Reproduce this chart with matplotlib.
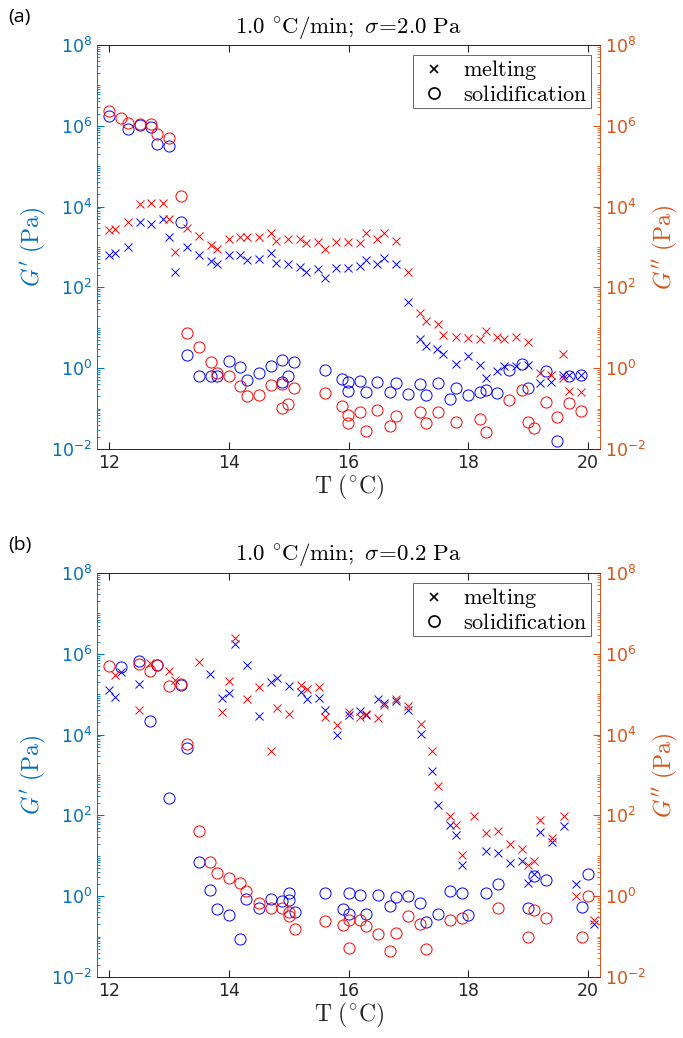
import numpy as np
import matplotlib
matplotlib.use('Agg')
import matplotlib.pyplot as plt
from matplotlib.ticker import LogLocator, FixedLocator, NullFormatter

plt.rcParams['mathtext.fontset'] = 'cm'
plt.rcParams['font.family'] = ['DejaVu Sans']

# ---- panel (a): 1.0 C/min, sigma = 2.0 Pa  (values are log10 of modulus in Pa)
a_gp_melt_T = [12.0, 12.1, 12.31, 12.51, 12.71, 12.9, 13.0, 13.1, 13.3, 13.5, 13.7, 13.8, 14.0, 14.19,
               14.3, 14.5, 14.7, 14.79, 14.99, 15.19, 15.29, 15.49, 15.6, 15.79, 15.99, 16.19, 16.29,
               16.48, 16.59, 16.79, 16.99, 17.19, 17.29, 17.47, 17.58, 17.79, 17.99, 18.19, 18.29,
               18.48, 18.59, 18.79, 18.99, 19.19, 19.39, 19.59, 19.69, 19.89]
a_gp_melt = [2.79, 2.84, 3.0, 3.62, 3.56, 3.7, 3.25, 2.39, 3.0, 2.8, 2.65, 2.59, 2.81, 2.8,
             2.69, 2.71, 2.84, 2.61, 2.59, 2.51, 2.39, 2.46, 2.24, 2.49, 2.47, 2.54, 2.69,
             2.59, 2.73, 2.57, 1.64, 0.73, 0.55, 0.47, 0.35, 0.1, 0.29, 0.07, -0.25,
             -0.08, 0.06, 0.06, 0.07, -0.37, -0.33, -0.17, -0.17, -0.17]
a_gpp_melt_T = [12.0, 12.1, 12.31, 12.51, 12.71, 12.9, 13.0, 13.1, 13.3, 13.5, 13.7, 13.8, 14.0, 14.19,
                14.3, 14.5, 14.7, 14.79, 14.99, 15.19, 15.29, 15.49, 15.6, 15.79, 15.99, 16.19, 16.29,
                16.48, 16.59, 16.79, 16.99, 17.19, 17.29, 17.49, 17.58, 17.79, 17.99, 18.19, 18.29,
                18.48, 18.59, 18.79, 18.99, 19.19, 19.39, 19.59, 19.59, 19.69, 19.89]
a_gpp_melt = [3.42, 3.44, 3.62, 4.07, 4.09, 4.09, 3.7, 2.87, 3.47, 3.27, 3.06, 2.94, 3.2, 3.25,
              3.25, 3.24, 3.35, 3.14, 3.21, 3.2, 3.09, 3.13, 2.96, 3.12, 3.13, 3.09, 3.35,
              3.2, 3.35, 3.14, 2.39, 1.36, 1.17, 1.09, 0.81, 0.78, 0.74, 0.72, 0.91,
              0.78, 0.72, 0.78, 0.66, -0.11, -0.17, 0.36, -0.25, -0.56, -0.6]
a_gp_sol_T = [12.0, 12.31, 12.51, 12.71, 12.8, 13.0, 13.2, 13.3, 13.5, 13.7, 13.8, 14.0, 14.19, 14.3,
              14.5, 14.7, 14.89, 14.89, 14.99, 15.09, 15.6, 15.89, 15.99, 15.99, 16.19, 16.29, 16.48,
              16.69, 16.79, 16.99, 17.19, 17.29, 17.49, 17.69, 17.79, 17.99, 18.19, 18.29, 18.48,
              18.68, 18.89, 18.99, 19.29, 19.49, 19.69, 19.89]
a_gp_sol = [6.25, 5.93, 6.03, 5.96, 5.55, 5.51, 3.62, 0.32, -0.19, -0.2, -0.2, 0.18, 0.04, -0.3,
            -0.12, 0.06, 0.2, -0.34, -0.2, 0.15, -0.04, -0.27, -0.34, -0.56, -0.31, -0.58, -0.35,
            -0.58, -0.37, -0.64, -0.38, -0.67, -0.37, -0.75, -0.48, -0.66, -0.6, -0.55, -0.62,
            -0.04, 0.1, -0.48, -0.07, -1.81, -0.19, -0.17]
a_gpp_sol_T = [12.0, 12.2, 12.31, 12.51, 12.71, 12.8, 13.0, 13.2, 13.3, 13.5, 13.7, 13.8, 14.0, 14.19,
               14.3, 14.5, 14.7, 14.89, 15.09, 14.89, 14.99, 15.6, 15.89, 15.99, 15.99, 16.19, 16.29,
               16.48, 16.69, 16.79, 17.19, 17.29, 17.49, 17.79, 18.19, 18.29, 18.68, 18.89, 18.99,
               19.09, 19.29, 19.49, 19.69, 19.89]
a_gpp_sol = [6.37, 6.2, 6.08, 6.04, 6.05, 5.8, 5.71, 4.27, 0.86, 0.53, 0.16, -0.11, -0.2, -0.45,
             -0.7, -0.66, -0.42, -0.38, -0.48, -0.99, -0.89, -0.62, -0.93, -1.16, -1.36, -1.08, -1.56,
             -1.03, -1.44, -1.19, -1.09, -1.36, -1.08, -1.32, -1.26, -1.59, -0.78, -0.54, -1.32,
             -1.49, -0.83, -1.22, -0.86, -1.07]

# ---- panel (b): 1.0 C/min, sigma = 0.2 Pa
b_gp_melt_T = [12.0, 12.1, 12.2, 12.5, 13.69, 13.89, 14.0, 14.1, 14.3, 14.5, 14.7, 14.8, 15.0, 15.2,
               15.3, 15.5, 15.6, 15.8, 16.0, 16.19, 16.29, 16.5, 16.6, 16.8, 17.0, 17.21, 17.4, 17.5,
               17.7, 17.8, 17.9, 18.3, 18.5, 18.7, 18.9, 19.0, 19.1, 19.2, 19.4, 19.6, 19.8, 20.1]
b_gp_melt = [5.1, 4.93, 5.55, 5.26, 5.5, 4.91, 5.03, 6.25, 5.72, 4.46, 5.3, 5.39, 5.2, 5.06,
             4.89, 4.91, 4.62, 3.99, 4.48, 4.59, 4.48, 4.89, 4.77, 4.83, 4.6, 4.01, 3.1, 2.25,
             1.76, 1.51, 0.77, 1.12, 1.06, 0.81, 0.87, 0.33, 0.56, 1.59, 1.33, 1.73, 0.29, -0.69]
b_gpp_melt_T = [12.1, 12.5, 12.69, 13.0, 13.1, 13.5, 13.89, 14.0, 14.1, 14.3, 14.5, 14.7, 14.8, 15.0,
                15.2, 15.3, 15.5, 15.6, 15.8, 16.0, 16.19, 16.29, 16.5, 16.6, 16.8, 17.0, 17.21, 17.4,
                17.5, 17.7, 17.8, 17.9, 18.1, 18.3, 18.5, 18.7, 18.9, 19.0, 19.1, 19.2, 19.4, 19.6,
                19.8, 20.1]
b_gpp_melt = [5.47, 4.6, 5.78, 5.57, 5.36, 5.8, 4.56, 5.32, 6.38, 4.89, 5.18, 3.59, 4.66, 4.5,
              5.22, 5.12, 5.17, 4.44, 4.25, 4.56, 4.44, 4.52, 4.4, 4.73, 4.87, 4.7, 4.27, 3.59,
              2.74, 1.98, 1.76, 1.01, 1.98, 1.57, 1.62, 1.29, 1.16, 0.77, 0.87, 1.88, 1.45, 1.98,
              0.0, -0.58]
b_gp_sol_T = [12.2, 12.5, 12.69, 12.8, 13.0, 13.2, 13.3, 13.5, 13.69, 13.8, 14.0, 14.19, 14.29, 14.5,
              14.7, 14.89, 15.0, 15.0, 15.1, 15.6, 15.9, 16.0, 16.0, 16.19, 16.29, 16.5, 16.69, 16.79,
              17.0, 17.19, 17.29, 17.49, 17.7, 17.9, 18.0, 18.3, 18.5, 18.99, 19.1, 19.3, 19.9, 20.0]
b_gp_sol = [5.68, 5.82, 4.33, 5.72, 2.42, 5.22, 3.67, 0.85, 0.15, -0.32, -0.47, -1.05, -0.08, -0.3,
            -0.08, -0.12, 0.07, -0.1, -0.39, 0.07, -0.32, 0.08, -0.45, 0.02, -0.45, 0.02, -0.24, -0.03,
            0.0, -0.18, -0.64, -0.43, 0.13, 0.07, -0.47, 0.07, 0.29, -0.28, 0.5, 0.4, -0.26, 0.54]
b_gpp_sol_T = [12.0, 12.5, 12.69, 12.8, 13.0, 13.2, 13.3, 13.5, 13.69, 13.8, 14.0, 14.19, 14.29, 14.5,
               14.7, 14.89, 15.0, 15.0, 15.1, 15.6, 15.9, 16.0, 16.0, 16.19, 16.29, 16.5, 16.69, 16.79,
               17.0, 17.19, 17.29, 17.7, 17.9, 18.5, 18.99, 19.1, 19.3, 19.9, 20.0]
b_gpp_sol = [5.69, 5.74, 5.57, 5.72, 5.2, 5.26, 3.76, 1.61, 0.85, 0.58, 0.45, 0.33, 0.12, -0.18,
             -0.29, -0.29, -0.39, -0.5, -0.82, -0.61, -0.72, -0.59, -1.27, -0.58, -0.73, -0.94, -1.35, -0.92,
             -0.49, -0.7, -1.31, -0.59, -0.53, -0.29, -1.0, -0.35, -0.55, -1.02, 0.0]

titles = [r'$\mathrm{1.0\ ^{\circ}C/min;}\ \sigma\!=\!\mathrm{2.0\ Pa}$',
          r'$\mathrm{1.0\ ^{\circ}C/min;}\ \sigma\!=\!\mathrm{0.2\ Pa}$']
panel_tags = ['(a)', '(b)']
x_ticks = [12, 14, 16, 18, 20]
y_ticks = [1e-2, 1e0, 1e2, 1e4, 1e6, 1e8]

LEFT_C = '#0072BD'
RIGHT_C = '#D95319'
AX_C = '#262626'

fig = plt.figure(figsize=(6.83, 10.38), dpi=100)


def draw_panel(rect, tag, title, gpm_T, gpm, gppm_T, gppm, gps_T, gps, gpps_T, gpps):
	ax = fig.add_axes(rect)
	ax2 = ax.twinx()

	ax.plot(gpm_T, 10.0 ** np.array(gpm), 'x', color='b', ms=5.5, mew=0.7, ls='none')
	ax.plot(gps_T, 10.0 ** np.array(gps), 'o', mfc='none', mec='b', ms=8, mew=0.7, ls='none')
	ax2.plot(gppm_T, 10.0 ** np.array(gppm), 'x', color='r', ms=5.5, mew=0.7, ls='none')
	ax2.plot(gpps_T, 10.0 ** np.array(gpps), 'o', mfc='none', mec='r', ms=8, mew=0.7, ls='none')

	for a, c in ((ax, LEFT_C), (ax2, RIGHT_C)):
		a.set_yscale('log')
		a.set_ylim(1e-2, 1e8)
		a.yaxis.set_major_locator(FixedLocator(y_ticks))
		a.yaxis.set_minor_locator(LogLocator(base=10, subs=np.arange(1, 10), numticks=30))
		a.yaxis.set_minor_formatter(NullFormatter())
		a.tick_params(axis='y', which='both', direction='in', colors=c, labelsize=12.5)
		a.tick_params(axis='y', which='major', length=5)
		a.tick_params(axis='y', which='minor', length=2.5)
		for s in a.spines.values():
			s.set_color(AX_C)
			s.set_linewidth(0.6)
	ax.spines['left'].set_color(LEFT_C)
	ax2.spines['left'].set_color(LEFT_C)
	ax2.spines['right'].set_color(RIGHT_C)
	ax.spines['right'].set_color(RIGHT_C)

	ax.set_xlim(11.8, 20.2)
	ax.set_xticks(x_ticks)
	ax.tick_params(axis='x', direction='in', top=True, colors=AX_C, labelsize=12.5, length=5)
	ax.tick_params(axis='x', which='minor', top=False, bottom=False)

	ax.set_xlabel(r'$\mathrm{T\ (^{\circ}C)}$', fontsize=17, color=AX_C, labelpad=1)
	ax.set_ylabel(r"$G'\ \mathrm{(Pa)}$", fontsize=17, color=LEFT_C, labelpad=2)
	ax2.set_ylabel(r"$G''\ \mathrm{(Pa)}$", fontsize=17, color=RIGHT_C, rotation=90, labelpad=4)
	ax.set_title(title, fontsize=16.5, color='black', pad=9)

	# black proxy markers for the legend
	h1, = ax.plot([], [], 'x', color='black', ms=6, mew=1.2, ls='none')
	h2, = ax.plot([], [], 'o', mfc='none', mec='black', ms=8, mew=1.2, ls='none')
	leg = ax2.legend([h1, h2], [r'$\mathrm{melting}$', r'$\mathrm{solidification}$'],
					 loc='upper right', bbox_to_anchor=(0.982, 0.975), borderaxespad=0,
					 fontsize=16, fancybox=False, framealpha=1, edgecolor='#666666',
					 handletextpad=0.5, borderpad=0.15, labelspacing=0.1, handlelength=1.6)
	leg.get_frame().set_linewidth(0.7)

	fig.text(0.012, rect[1] + rect[3] + 0.027, tag, fontsize=14, family='Open Sans', va='center')
	return ax


rect_a = [97 / 683, (1038 - 449) / 1038, 503 / 683, 404 / 1038]
rect_b = [97 / 683, (1038 - 977) / 1038, 503 / 683, 404 / 1038]

draw_panel(rect_a, panel_tags[0], titles[0], a_gp_melt_T, a_gp_melt, a_gpp_melt_T, a_gpp_melt,
		   a_gp_sol_T, a_gp_sol, a_gpp_sol_T, a_gpp_sol)
draw_panel(rect_b, panel_tags[1], titles[1], b_gp_melt_T, b_gp_melt, b_gpp_melt_T, b_gpp_melt,
		   b_gp_sol_T, b_gp_sol, b_gpp_sol_T, b_gpp_sol)

fig.savefig('out.png', dpi=100)
